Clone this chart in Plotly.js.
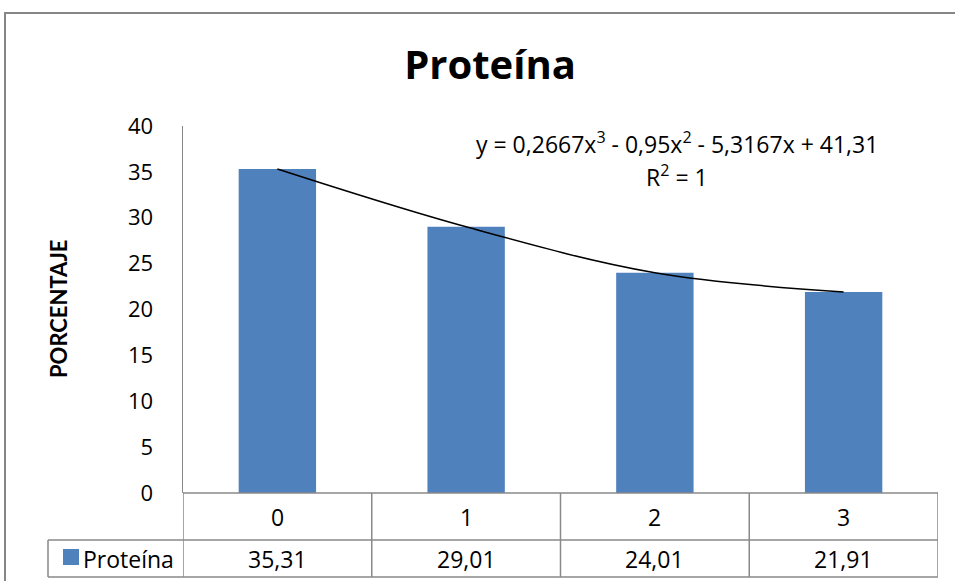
<!DOCTYPE html>
<html>
<head>
<meta charset="utf-8">
<script src="https://cdn.plot.ly/plotly-3.0.1.min.js"></script>
<style>html,body{margin:0;padding:0;background:#fff;}#chart{width:955px;height:581px;}</style>
</head>
<body>
<div id="chart"></div>
<script>
const categories = [0, 1, 2, 3];
const categoryLabels = ["0", "1", "2", "3"];
const seriesName = "Proteína";
const values = [35.31, 29.01, 24.01, 21.91];
const valueLabels = ["35,31", "29,01", "24,01", "21,91"];
const yTicks = [0, 5, 10, 15, 20, 25, 30, 35, 40];
const equationLine1 = "y = 0,2667x<sup>3</sup> - 0,95x<sup>2</sup> - 5,3167x + 41,31";
const equationLine2 = "R<sup>2</sup> = 1";

const FONT = "'Open Sans', 'Noto Sans', sans-serif";
const FONT_T = "Lato, 'Open Sans', sans-serif";
const GRID = "#898989";
const BLUE = "#4F81BD";

// geometry (pixels -> paper)
const W = 955, H = 581;
const mL = 183, mR = 17, mT = 126, mB = 88;
const pw = W - mL - mR, ph = H - mT - mB;
const px = x => (x - mL) / pw;
const py = y => (H - mB - y) / ph;

const shapes = [];
// outer chart border
shapes.push({type:'rect', xref:'paper', yref:'paper', x0:px(5), x1:px(990), y0:py(600), y1:py(13),
  line:{color:'#868686', width:2}, fillcolor:'rgba(0,0,0,0)', layer:'below'});
// table horizontal lines
shapes.push({type:'line', xref:'paper', yref:'paper', x0:0, x1:1, y0:py(493), y1:py(493), line:{color:GRID, width:1.5}});
shapes.push({type:'line', xref:'paper', yref:'paper', x0:px(48), x1:1, y0:py(540), y1:py(540), line:{color:GRID, width:1.5}});
shapes.push({type:'line', xref:'paper', yref:'paper', x0:px(48), x1:1, y0:py(577), y1:py(577), line:{color:GRID, width:1.5}});
// table vertical lines at category boundaries
const bounds = [-0.5].concat(categories.map(c => c + 0.5));
bounds.forEach(b => {
  shapes.push({type:'line', xref:'x', yref:'paper', x0:b, x1:b, y0:py(577), y1:0, line:{color:GRID, width:1.5}});
});
// left border of series row
shapes.push({type:'line', xref:'paper', yref:'paper', x0:px(48), x1:px(48), y0:py(577), y1:py(540), line:{color:GRID, width:1.5}});
// legend key
shapes.push({type:'rect', xref:'paper', yref:'paper', x0:px(63), x1:px(79), y0:py(565), y1:py(549), line:{width:0}, fillcolor:BLUE});

const annotations = [];
categories.forEach((c, i) => {
  annotations.push({xref:'x', yref:'paper', x:c, y:py(517), text:categoryLabels[i], showarrow:false,
    xanchor:'center', yanchor:'middle', font:{family:FONT, size:23, color:'#000'}});
  annotations.push({xref:'x', yref:'paper', x:c, y:py(559), text:valueLabels[i], showarrow:false,
    xanchor:'center', yanchor:'middle', font:{family:FONT, size:23, color:'#000'}});
});
annotations.push({xref:'paper', yref:'paper', x:px(81), y:py(559), text:seriesName, showarrow:false,
  xanchor:'left', yanchor:'middle', font:{family:FONT, size:23, color:'#000'}});
annotations.push({xref:'paper', yref:'paper', x:px(677), y:py(143), text:equationLine1, showarrow:false,
  xanchor:'center', yanchor:'middle', font:{family:FONT, size:23, color:'#000'}});
annotations.push({xref:'paper', yref:'paper', x:px(677), y:py(176), text:equationLine2, showarrow:false,
  xanchor:'center', yanchor:'middle', font:{family:FONT, size:23, color:'#000'}});
annotations.push({xref:'paper', yref:'paper', x:px(58), y:py(308), text:'<b>PORCENTAJE</b>', showarrow:false,
  textangle:-90, xanchor:'center', yanchor:'middle', font:{family:FONT_T, size:22, color:'#000'}});

const data = [
  {type:'bar', x:categories, y:values, name:seriesName, marker:{color:BLUE}, hoverinfo:'skip'},
  {type:'scatter', mode:'lines', x:categories, y:values, line:{color:'#000', width:1.5, shape:'spline', smoothing:1}, hoverinfo:'skip'}
];

const layout = {
  width:W, height:H,
  margin:{l:mL, r:mR, t:mT, b:mB},
  paper_bgcolor:'#fff', plot_bgcolor:'#fff',
  showlegend:false,
  bargap:0.59,
  title:{text:'<b>Proteína</b>', x:490/W, xanchor:'center', y:1-65/H, yanchor:'middle',
    font:{family:FONT, size:40, color:'#000'}},
  xaxis:{range:[-0.5, 3.5], showticklabels:false, showline:false, showgrid:false, zeroline:false, ticks:'', fixedrange:true},
  yaxis:{range:[0, 40], tickvals:yTicks, ticktext:yTicks.map(String), showgrid:false, zeroline:false,
    showline:true, linecolor:GRID, linewidth:1.5, ticks:'', ticklabelstandoff:24,
    tickfont:{family:FONT, size:22, color:'#000'}},
  shapes:shapes,
  annotations:annotations
};

Plotly.newPlot('chart', data, layout, {displayModeBar:false, staticPlot:true});
</script>
</body>
</html>
